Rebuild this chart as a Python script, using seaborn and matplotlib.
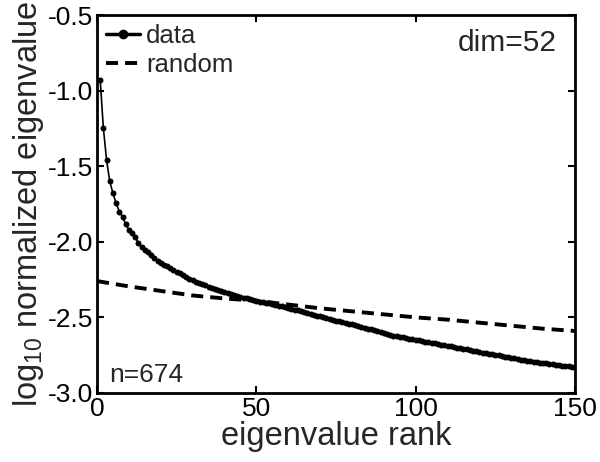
import numpy as np
import pandas as pd
import matplotlib
matplotlib.use("Agg")
import matplotlib.pyplot as plt
import seaborn as sns

# eigenvalue spectrum
rank = list(range(1, 151))
data_vals = [
    -0.93, -1.25, -1.46, -1.60, -1.68, -1.745, -1.80, -1.835, -1.885, -1.92,
    -1.945, -1.97, -2.01, -2.035, -2.055, -2.07, -2.09, -2.105, -2.125, -2.14,
    -2.152, -2.163, -2.175, -2.186, -2.197, -2.208, -2.22, -2.232, -2.243, -2.254,
    -2.265, -2.275, -2.282, -2.289, -2.296, -2.303, -2.31, -2.317, -2.323, -2.33,
    -2.337, -2.344, -2.35, -2.357, -2.363, -2.369, -2.375, -2.38, -2.386, -2.391,
    -2.396, -2.40, -2.404, -2.408, -2.413, -2.418, -2.423, -2.428, -2.433, -2.438,
    -2.443, -2.448, -2.452, -2.458, -2.464, -2.47, -2.476, -2.482, -2.488, -2.494,
    -2.50, -2.505, -2.511, -2.517, -2.522, -2.527, -2.532, -2.537, -2.542, -2.547,
    -2.552, -2.557, -2.562, -2.568, -2.574, -2.58, -2.586, -2.592, -2.598, -2.604,
    -2.61, -2.616, -2.62, -2.624, -2.628, -2.632, -2.636, -2.64, -2.644, -2.648,
    -2.652, -2.656, -2.66, -2.664, -2.668, -2.672, -2.676, -2.68, -2.684, -2.688,
    -2.692, -2.696, -2.70, -2.704, -2.708, -2.712, -2.716, -2.72, -2.724, -2.728,
    -2.733, -2.737, -2.741, -2.745, -2.749, -2.752, -2.756, -2.76, -2.764, -2.768,
    -2.771, -2.775, -2.779, -2.782, -2.786, -2.789, -2.793, -2.796, -2.799, -2.802,
    -2.805, -2.808, -2.811, -2.814, -2.816, -2.819, -2.821, -2.824, -2.826, -2.829,
]

# random-matrix reference curve
rand_rank = [0, 10, 20, 30, 40, 50, 60, 70, 80, 90, 100, 110, 120, 130, 140, 150]
rand_vals = [-2.26, -2.295, -2.325, -2.355, -2.375, -2.39, -2.415, -2.44,
             -2.46, -2.48, -2.50, -2.515, -2.535, -2.555, -2.575, -2.59]

x_ticks = [0, 50, 100, 150]
y_ticks = [-3.0, -2.5, -2.0, -1.5, -1.0, -0.5]

sns.set_theme(style="ticks")
plt.rcParams['font.family'] = ['Liberation Sans', 'DejaVu Sans']
plt.rcParams['mathtext.fontset'] = 'custom'
plt.rcParams['mathtext.rm'] = 'Liberation Sans'

fig = plt.figure(figsize=(6, 4.62), dpi=100)
ax = fig.add_axes([0.1617, 0.1494, 0.7966, 0.8181])

sns.lineplot(x=rank, y=data_vals, ax=ax, color='black', linewidth=1.2,
             marker='o', markersize=4.3, markeredgewidth=0, label='data')
sns.lineplot(x=rand_rank, y=rand_vals, ax=ax, color='black', linewidth=2.8,
             dashes=False, label='random')
ax.lines[-1].set_dashes((3.1, 1.8))

ax.set_xlim(0, 150)
ax.set_ylim(-3.0, -0.5)
ax.set_xticks(x_ticks)
ax.set_yticks(y_ticks)
ax.set_xticklabels([str(v) for v in x_ticks])
ax.set_yticklabels([f"{v:.1f}" for v in y_ticks])
ax.tick_params(direction='in', length=5, width=1.5, top=True, right=True,
               labelsize=19, colors='black', pad=3)
for s in ax.spines.values():
    s.set_linewidth(2.0)
    s.set_color('black')

ax.set_xlabel('eigenvalue rank', fontsize=23.5, labelpad=0)
ax.set_ylabel(r'log$_{10}$ normalized eigenvalue', fontsize=23.5, labelpad=1)

ax.text(0.962, 0.926, 'dim=52', transform=ax.transAxes, ha='right',
        va='center', fontsize=21.5)
ax.text(0.026, 0.048, 'n=674', transform=ax.transAxes, ha='left',
        va='center', fontsize=19)

leg = ax.legend(loc='upper left', frameon=False, fontsize=18.5,
                handlelength=1.32, handletextpad=0.25, borderaxespad=0.1,
                labelspacing=0.2, borderpad=0.25)
leg.get_lines()[0].set_linewidth(2.5)
leg.get_lines()[0].set_markersize(7)

fig.savefig('out.png', dpi=100)
